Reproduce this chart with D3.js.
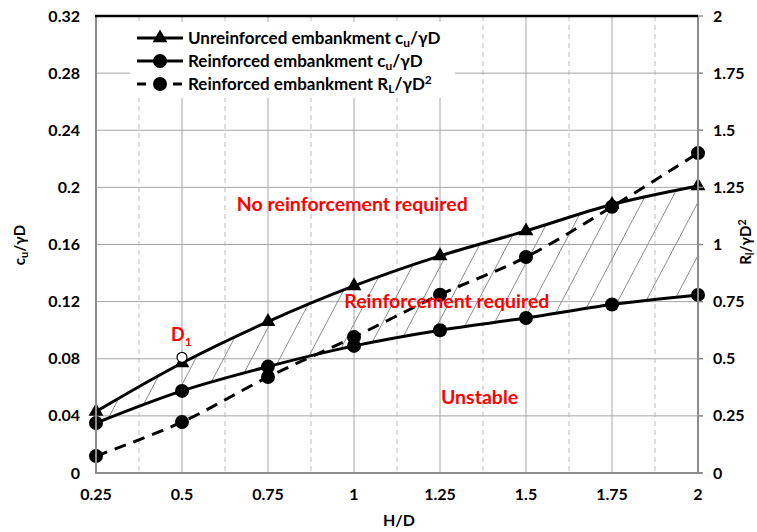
<!DOCTYPE html>
<html>
<head>
<meta charset="utf-8">
<script src="https://cdn.jsdelivr.net/npm/d3@7"></script>
<style>
  body { margin: 0; background: #fff; }
  text { font-family: Lato, "Open Sans", sans-serif; font-weight: bold; }
</style>
</head>
<body>
<svg id="chart" width="757" height="532"></svg>
<script>
// data
var hd = [0.25, 0.5, 0.75, 1, 1.25, 1.5, 1.75, 2];
var unreinforcedCu = [0.043, 0.077, 0.106, 0.131, 0.152, 0.1695, 0.188, 0.201];
var reinforcedCu = [0.035, 0.0575, 0.0745, 0.089, 0.100, 0.1085, 0.118, 0.1247];
var reinforcedRL = [0.074, 0.223, 0.42, 0.595, 0.78, 0.945, 1.165, 1.40];
var pointD1 = {hd: 0.5, cu: 0.081};
var xTicks = [0.25, 0.5, 0.75, 1, 1.25, 1.5, 1.75, 2];
var xMinorTicks = [0.375, 0.625, 0.875, 1.125, 1.375, 1.625, 1.875];
var yLeftTicks = [0, 0.04, 0.08, 0.12, 0.16, 0.2, 0.24, 0.28, 0.32];
var yRightTicks = [0, 0.25, 0.5, 0.75, 1, 1.25, 1.5, 1.75, 2];

var svg = d3.select("#chart");
var pLeft = 96, pRight = 698, pTop = 16, pBottom = 473;

var x = d3.scaleLinear().domain([0.25, 2]).range([pLeft, pRight]);
var yL = d3.scaleLinear().domain([0, 0.32]).range([pBottom, pTop]);
var yR = d3.scaleLinear().domain([0, 2]).range([pBottom, pTop]);

var curve = d3.curveCatmullRom.alpha(0.5);
var red = "#ff0000";
var tickSize = 16;

// grid
var grid = svg.append("g");
grid.selectAll("line.minor").data(xMinorTicks).enter().append("line")
    .attr("x1", function(d) { return x(d); }).attr("x2", function(d) { return x(d); })
    .attr("y1", pTop).attr("y2", pBottom)
    .attr("stroke", "#bdbdbd").attr("stroke-dasharray", "5,4");
grid.selectAll("line.vmaj").data(xTicks).enter().append("line")
    .attr("x1", function(d) { return x(d); }).attr("x2", function(d) { return x(d); })
    .attr("y1", pTop).attr("y2", pBottom)
    .attr("stroke", "#a6a6a6");
grid.selectAll("line.hmaj").data(yLeftTicks).enter().append("line")
    .attr("x1", pLeft).attr("x2", pRight)
    .attr("y1", function(d) { return yL(d); }).attr("y2", function(d) { return yL(d); })
    .attr("stroke", "#a6a6a6");

// hatch between the two cu curves
var band = hd.map(function(h, i) { return {h: h, lo: reinforcedCu[i], hi: unreinforcedCu[i]}; });
var area = d3.area().curve(curve)
    .x(function(d) { return x(d.h); })
    .y0(function(d) { return yL(d.lo); })
    .y1(function(d) { return yL(d.hi); });
svg.append("clipPath").attr("id", "band").append("path").attr("d", area(band));

var slope = 1.9, gap = 28;
var rise = pBottom - pTop;
var starts = d3.range(pLeft - rise / slope, pRight, gap);
svg.append("g").attr("clip-path", "url(#band)")
  .selectAll("line").data(starts).enter().append("line")
    .attr("x1", function(d) { return d; }).attr("y1", pBottom)
    .attr("x2", function(d) { return d + rise / slope; }).attr("y2", pTop)
    .attr("stroke", "#8c8c8c").attr("stroke-width", 1);

// series lines
var lineL = d3.line().curve(curve)
    .x(function(d, i) { return x(hd[i]); })
    .y(function(d) { return yL(d); });
var lineR = d3.line().curve(curve)
    .x(function(d, i) { return x(hd[i]); })
    .y(function(d) { return yR(d); });

svg.append("path").attr("d", lineR(reinforcedRL))
    .attr("fill", "none").attr("stroke", "#000").attr("stroke-width", 3)
    .attr("stroke-dasharray", "12,8");
svg.append("path").attr("d", lineL(reinforcedCu))
    .attr("fill", "none").attr("stroke", "#000").attr("stroke-width", 3);
svg.append("path").attr("d", lineL(unreinforcedCu))
    .attr("fill", "none").attr("stroke", "#000").attr("stroke-width", 3);

// markers
var tri = d3.symbol().type(d3.symbolTriangle).size(95);
svg.append("g").selectAll("path").data(unreinforcedCu).enter().append("path")
    .attr("d", tri)
    .attr("transform", function(d, i) { return "translate(" + x(hd[i]) + "," + yL(d) + ")"; });
svg.append("g").selectAll("circle").data(reinforcedCu).enter().append("circle")
    .attr("cx", function(d, i) { return x(hd[i]); })
    .attr("cy", function(d) { return yL(d); }).attr("r", 7);
svg.append("g").selectAll("circle").data(reinforcedRL).enter().append("circle")
    .attr("cx", function(d, i) { return x(hd[i]); })
    .attr("cy", function(d) { return yR(d); }).attr("r", 7);

// D1
svg.append("circle").attr("cx", x(pointD1.hd)).attr("cy", yL(pointD1.cu)).attr("r", 5)
    .attr("fill", "#fff").attr("stroke", "#000").attr("stroke-width", 1.2);
var d1 = svg.append("text").attr("x", x(pointD1.hd) - 11).attr("y", yL(pointD1.cu) - 16)
    .attr("fill", red).attr("font-size", 18);
d1.append("tspan").text("D");
d1.append("tspan").attr("font-size", 12).attr("dy", 5).text("1");

// frame
svg.append("line").attr("x1", pLeft).attr("x2", pLeft).attr("y1", pTop).attr("y2", pBottom)
    .attr("stroke", "#8c8c8c").attr("stroke-width", 2);
svg.append("line").attr("x1", pRight).attr("x2", pRight).attr("y1", pTop).attr("y2", pBottom + 1)
    .attr("stroke", "#8c8c8c").attr("stroke-width", 2);
svg.append("line").attr("x1", pLeft - 1).attr("x2", pRight + 4).attr("y1", pBottom).attr("y2", pBottom)
    .attr("stroke", "#8c8c8c").attr("stroke-width", 2);
svg.append("line").attr("x1", pLeft - 1).attr("x2", pRight).attr("y1", pTop).attr("y2", pTop)
    .attr("stroke", "#000").attr("stroke-width", 2.5);
svg.append("g").selectAll("line").data(yRightTicks).enter().append("line")
    .attr("x1", pRight).attr("x2", pRight + 5)
    .attr("y1", function(d) { return yR(d); }).attr("y2", function(d) { return yR(d); })
    .attr("stroke", "#8c8c8c").attr("stroke-width", 1.5);

// tick labels
var fmt = function(d) { return String(+d.toFixed(2)); };
svg.append("g").selectAll("text").data(yLeftTicks).enter().append("text")
    .attr("x", 80).attr("y", function(d) { return yL(d); }).attr("dy", "0.35em")
    .attr("text-anchor", "end").attr("font-size", tickSize).text(fmt);
svg.append("g").selectAll("text").data(yRightTicks).enter().append("text")
    .attr("x", 713).attr("y", function(d) { return yR(d); }).attr("dy", "0.35em")
    .attr("font-size", tickSize).text(fmt);
svg.append("g").selectAll("text").data(xTicks).enter().append("text")
    .attr("x", function(d) { return x(d); }).attr("y", 500)
    .attr("text-anchor", "middle").attr("font-size", tickSize).text(fmt);

// axis titles
svg.append("text").attr("x", (pLeft + pRight) / 2 + 2).attr("y", 526)
    .attr("text-anchor", "middle").attr("font-size", tickSize).text("H/D");
var yt = svg.append("text").attr("transform", "translate(25,245) rotate(-90)")
    .attr("text-anchor", "middle").attr("font-size", 15);
yt.append("tspan").text("c");
yt.append("tspan").attr("font-size", 11).attr("dy", 3).text("u");
yt.append("tspan").attr("dy", -3).text("/γD");
var rt = svg.append("text").attr("transform", "translate(751,242) rotate(-90)")
    .attr("text-anchor", "middle").attr("font-size", 15);
rt.append("tspan").text("R");
rt.append("tspan").attr("font-size", 11).attr("dy", 3).text("l");
rt.append("tspan").attr("dy", -3).text("/γD");
rt.append("tspan").attr("font-size", 11).attr("dy", -5).text("2");

// region labels
var regions = [
  {t: "No reinforcement required", h: 0.995, v: 0.188},
  {t: "Reinforcement required", h: 1.27, v: 0.120},
  {t: "Unstable", h: 1.365, v: 0.053}
];
svg.append("g").selectAll("text").data(regions).enter().append("text")
    .attr("x", function(d) { return x(d.h); }).attr("y", function(d) { return yL(d.v); })
    .attr("dy", "0.35em").attr("text-anchor", "middle")
    .attr("fill", red).attr("font-size", 19.5).text(function(d) { return d.t; });

// legend
var lg = svg.append("g");
lg.append("rect").attr("x", 130).attr("y", 22).attr("width", 325).attr("height", 76).attr("fill", "#fff");
var rows = [
  {y: 38, mark: "tri", dash: null, main: "Unreinforced embankment c", sub: "u", tail: "/γD", sup: null},
  {y: 61, mark: "dot", dash: null, main: "Reinforced embankment c", sub: "u", tail: "/γD", sup: null},
  {y: 84, mark: "dot", dash: "9,9", main: "Reinforced embankment R", sub: "L", tail: "/γD", sup: "2"}
];
rows.forEach(function(r) {
  lg.append("line").attr("x1", 137).attr("x2", 183).attr("y1", r.y).attr("y2", r.y)
    .attr("stroke", "#000").attr("stroke-width", 3)
    .attr("stroke-dasharray", r.dash);
  if (r.mark == "tri")
    lg.append("path").attr("d", tri).attr("transform", "translate(160," + r.y + ")");
  else
    lg.append("circle").attr("cx", 160).attr("cy", r.y).attr("r", 7);
  var t = lg.append("text").attr("x", 188).attr("y", r.y).attr("dy", "0.35em").attr("font-size", 17);
  t.append("tspan").text(r.main);
  t.append("tspan").attr("font-size", 12).attr("dy", 3).text(r.sub);
  t.append("tspan").attr("dy", -3).text(r.tail);
  if (r.sup) t.append("tspan").attr("font-size", 12).attr("dy", -6).text(r.sup);
});
</script>
</body>
</html>
